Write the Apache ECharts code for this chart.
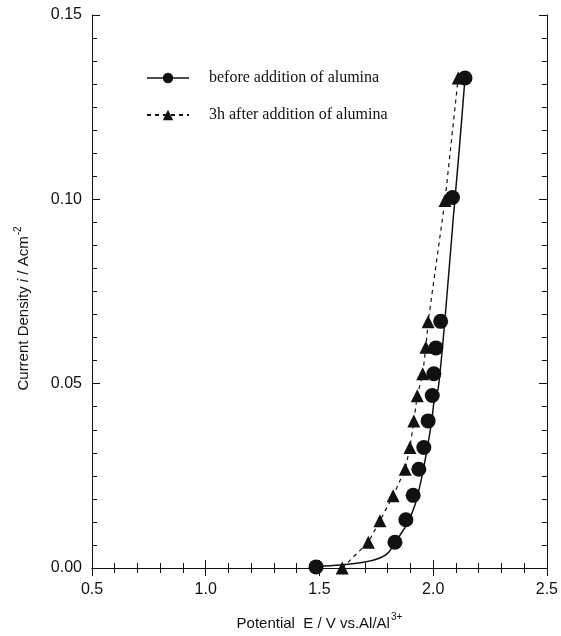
<!DOCTYPE html>
<html>
<head>
<meta charset="utf-8">
<script src="https://cdn.jsdelivr.net/npm/echarts@6/dist/echarts.min.js"></script>
<style>
  html, body { margin: 0; padding: 0; background: #fff; }
  #chart { width: 561px; height: 636px; }
</style>
</head>
<body>
<div id="chart"></div>
<script>
// measured points, before alumina (circles)
const beforeX = [1.485, 1.832, 1.880, 1.912, 1.937, 1.959, 1.978, 1.996, 2.003, 2.012, 2.033, 2.085, 2.140]
const beforeY = [0.0003, 0.0070, 0.0131, 0.0197, 0.0268, 0.0327, 0.0399, 0.0468, 0.0527, 0.0597, 0.0669, 0.1005, 0.1329]
// measured points, 3h after alumina (triangles)
const afterX = [1.600, 1.715, 1.766, 1.824, 1.877, 1.898, 1.915, 1.930, 1.954, 1.968, 1.978, 2.052, 2.110]
const afterY = [0.0000, 0.0070, 0.0128, 0.0196, 0.0268, 0.0327, 0.0399, 0.0467, 0.0527, 0.0599, 0.0668, 0.0997, 0.1329]
// fitted solid curve through the circles
const fitX = [1.485, 1.590, 1.700, 1.766, 1.802, 1.832, 1.883, 1.920, 1.949, 1.971, 1.993, 2.008, 2.022, 2.052, 2.088, 2.114, 2.140]
const fitY = [0.0004, 0.0008, 0.0016, 0.0027, 0.0041, 0.0069, 0.0117, 0.0171, 0.0243, 0.0315, 0.0396, 0.0468, 0.0486, 0.0676, 0.0946, 0.1130, 0.1329]

const xTicks = ['0.5', '1.0', '1.5', '2.0', '2.5']
const yTicks = ['0.00', '0.05', '0.10', '0.15']

const nameBefore = 'before addition of alumina'
const nameAfter = '3h after addition of alumina'

const zip = (xs, ys) => xs.map((x, i) => [x, ys[i]])

const black = '#111'
const sans = 'Liberation Sans, Arial, sans-serif'
const serif = 'Liberation Serif, Times New Roman, serif'

const xAxisBase = {
  type: 'value',
  min: 0.5,
  max: 2.5,
  interval: 0.5,
  axisLine: { show: true, lineStyle: { color: black, width: 1 } },
  axisTick: { show: true, inside: true, length: 8, lineStyle: { color: black } },
  minorTick: { show: true, splitNumber: 5, length: 5, lineStyle: { color: black } },
  splitLine: { show: false },
}
const yAxisBase = {
  type: 'value',
  min: 0,
  max: 0.15,
  interval: 0.05,
  axisLine: { show: true, lineStyle: { color: black, width: 1 } },
  axisTick: { show: true, inside: true, length: 8, lineStyle: { color: black } },
  minorTick: { show: true, splitNumber: 8, length: 5, lineStyle: { color: black } },
  splitLine: { show: false },
}

const chart = echarts.init(document.getElementById('chart'))
chart.setOption({
  animation: false,
  backgroundColor: '#fff',
  grid: { left: 92, right: 14, top: 15, bottom: 66 },
  legend: {
    left: 141,
    top: 65,
    orient: 'vertical',
    itemWidth: 42,
    itemHeight: 13,
    itemGap: 21,
    textStyle: { fontFamily: serif, fontSize: 16, color: black, padding: [0, 0, 0, 15] },
    data: [
      { name: nameBefore, lineStyle: { color: black, width: 1.5, opacity: 1, type: 'solid' } },
      { name: nameAfter },
    ],
  },
  xAxis: [
    {
      ...xAxisBase,
      position: 'bottom',
      axisLabel: {
        fontFamily: sans,
        fontSize: 16,
        color: black,
        margin: 14,
        formatter: (v) => xTicks[Math.round((v - 0.5) / 0.5)] ?? '',
      },
      name: '{t|Potential  E / V vs.Al/Al}{sup|3+}',
      nameLocation: 'middle',
      nameGap: 44,
      nameTextStyle: {
        rich: {
          t: { fontFamily: sans, fontSize: 15, color: black, lineHeight: 20 },
          sup: { fontFamily: sans, fontSize: 10, color: black, padding: [0, 0, 13, 1] },
        },
      },
    },
    { ...xAxisBase, position: 'top', axisLabel: { show: false } },
  ],
  yAxis: [
    {
      ...yAxisBase,
      position: 'left',
      axisLabel: {
        fontFamily: sans,
        fontSize: 16,
        color: black,
        margin: 10,
        formatter: (v) => yTicks[Math.round(v / 0.05)] ?? '',
      },
      name: '{t|Current Density }{i|i}{t| / Acm}{sup|-2}',
      nameLocation: 'middle',
      nameRotate: 90,
      nameGap: 57,
      nameTextStyle: {
        padding: [0, 34, 0, 0],
        rich: {
          t: { fontFamily: sans, fontSize: 15, color: black, lineHeight: 19 },
          i: { fontFamily: sans, fontSize: 15, color: black, fontStyle: 'italic', lineHeight: 19 },
          sup: { fontFamily: sans, fontSize: 10, color: black, padding: [0, 0, 12, 1] },
        },
      },
    },
    { ...yAxisBase, position: 'right', axisLabel: { show: false } },
  ],
  series: [
    {
      name: nameBefore,
      type: 'line',
      data: zip(beforeX, beforeY),
      symbol: 'circle',
      symbolSize: 15,
      itemStyle: { color: black },
      lineStyle: { opacity: 0 },
      z: 3,
    },
    {
      name: 'fit',
      type: 'line',
      data: zip(fitX, fitY),
      symbol: 'none',
      smooth: 0.3,
      lineStyle: { color: black, width: 1.5 },
      z: 2,
    },
    {
      name: nameAfter,
      type: 'line',
      data: zip(afterX, afterY),
      symbol: 'triangle',
      symbolSize: 13,
      itemStyle: { color: black },
      lineStyle: { color: black, width: 1.2, type: [4, 4] },
      z: 3,
    },
  ],
})
</script>
</body>
</html>
